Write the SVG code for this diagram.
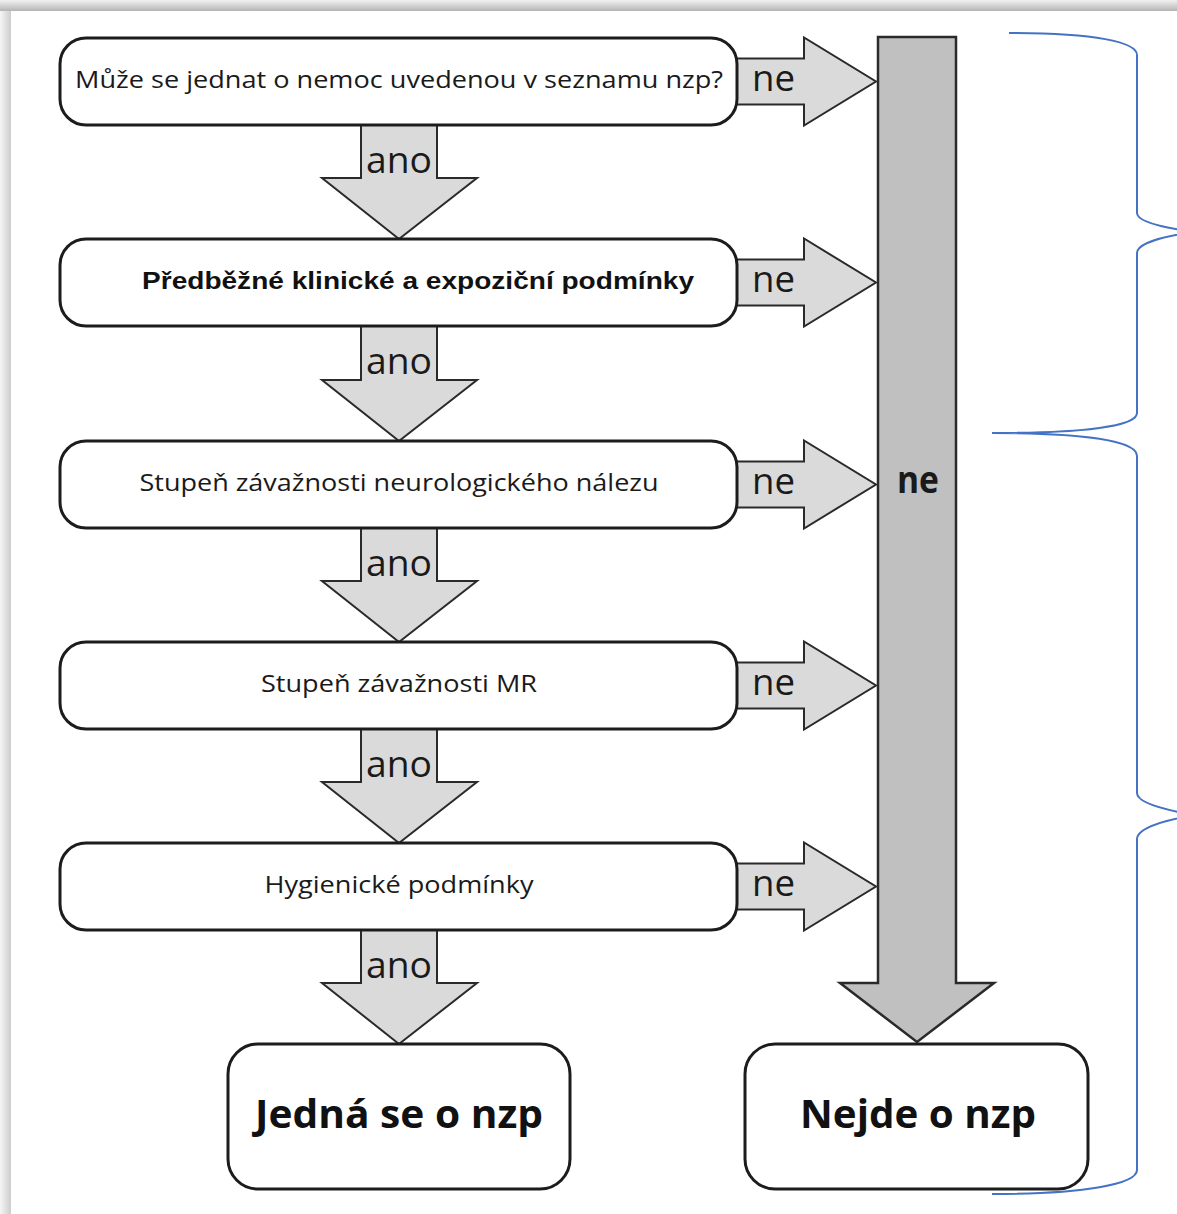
<svg xmlns="http://www.w3.org/2000/svg" width="1177" height="1214" viewBox="0 0 1177 1214">
<defs>
<linearGradient id="gTop" x1="0" y1="0" x2="0" y2="1"><stop offset="0" stop-color="#f2f2f2"/><stop offset="1" stop-color="#b4b4b4"/></linearGradient>
<linearGradient id="gLeft" x1="0" y1="0" x2="1" y2="0"><stop offset="0" stop-color="#f6f6f6"/><stop offset="1" stop-color="#cdcdcd"/></linearGradient>
</defs>
<style>
.box{fill:#fff;stroke:#1c1c1c;stroke-width:3}
.arr{fill:#dadada;stroke:#2a2a2a;stroke-width:2;stroke-linejoin:miter}
.bar{fill:#c0c0c0;stroke:#2a2a2a;stroke-width:2.5;stroke-linejoin:miter}
.t{font-family:"Open Sans","DejaVu Sans",sans-serif;font-size:23px;fill:#1a1a1a;text-anchor:middle}
.tb{font-family:"Liberation Sans",Arial,sans-serif;font-weight:bold;font-size:24px;fill:#111;text-anchor:middle}
.lab{font-family:"Open Sans","DejaVu Sans",sans-serif;font-size:37px;fill:#1a1a1a}
.big{font-family:"Open Sans","DejaVu Sans",sans-serif;font-weight:bold;font-size:39px;fill:#111;text-anchor:middle}
.brace{fill:none;stroke:#4472c4;stroke-width:2}
</style>
<rect x="0" y="0" width="1177" height="1214" fill="#fff"/>
<rect x="0" y="0" width="11" height="1214" fill="url(#gLeft)"/>
<rect x="0" y="0" width="1177" height="11" fill="url(#gTop)"/>

<g id="connectors">
<polygon class="bar" points="878,37 956,37 956,983 994,983 917,1042 840,983 878,983"/>
<text class="lab" x="918" y="493" text-anchor="middle" font-weight="bold" font-size="35" textLength="42" lengthAdjust="spacingAndGlyphs">ne</text>
<!-- ne arrows -->
<polygon class="arr" points="737,58.5 804,58.5 804,37.5 876,81.5 804,125.5 804,104.5 737,104.5"/>
<polygon class="arr" points="737,259.5 804,259.5 804,238.5 876,282.5 804,326.5 804,305.5 737,305.5"/>
<polygon class="arr" points="737,461.5 804,461.5 804,440.5 876,484.5 804,528.5 804,507.5 737,507.5"/>
<polygon class="arr" points="737,662.5 804,662.5 804,641.5 876,685.5 804,729.5 804,708.5 737,708.5"/>
<polygon class="arr" points="737,863.5 804,863.5 804,842.5 876,886.5 804,930.5 804,909.5 737,909.5"/>
<text class="lab" x="752" y="91" textLength="43" lengthAdjust="spacingAndGlyphs">ne</text>
<text class="lab" x="752" y="292" textLength="43" lengthAdjust="spacingAndGlyphs">ne</text>
<text class="lab" x="752" y="494" textLength="43" lengthAdjust="spacingAndGlyphs">ne</text>
<text class="lab" x="752" y="695" textLength="43" lengthAdjust="spacingAndGlyphs">ne</text>
<text class="lab" x="752" y="896" textLength="43" lengthAdjust="spacingAndGlyphs">ne</text>
<!-- ano arrows -->
<polygon class="arr" points="361,125 437,125 437,178 477,178 399,239 322,178 361,178"/>
<polygon class="arr" points="361,326 437,326 437,380 477,380 399,441 322,380 361,380"/>
<polygon class="arr" points="361,528 437,528 437,581 477,581 399,642 322,581 361,581"/>
<polygon class="arr" points="361,729 437,729 437,782 477,782 399,843 322,782 361,782"/>
<polygon class="arr" points="361,930 437,930 437,983 477,983 399,1044 322,983 361,983"/>
<text class="lab" x="399" y="173" text-anchor="middle" textLength="66" lengthAdjust="spacingAndGlyphs">ano</text>
<text class="lab" x="399" y="374" text-anchor="middle" textLength="66" lengthAdjust="spacingAndGlyphs">ano</text>
<text class="lab" x="399" y="576" text-anchor="middle" textLength="66" lengthAdjust="spacingAndGlyphs">ano</text>
<text class="lab" x="399" y="777" text-anchor="middle" textLength="66" lengthAdjust="spacingAndGlyphs">ano</text>
<text class="lab" x="399" y="978" text-anchor="middle" textLength="66" lengthAdjust="spacingAndGlyphs">ano</text>
</g>

<g id="n1"><rect class="box" x="60" y="38" width="677" height="87" rx="26"/>
<text class="t" x="399" y="88" textLength="648" lengthAdjust="spacingAndGlyphs">Může se jednat o nemoc uvedenou v seznamu nzp?</text></g>
<g id="n2"><rect class="box" x="60" y="239" width="677" height="87" rx="26"/>
<text class="tb" x="418" y="289" textLength="552" lengthAdjust="spacingAndGlyphs">Předběžné klinické a expoziční podmínky</text></g>
<g id="n3"><rect class="box" x="60" y="441" width="677" height="87" rx="26"/>
<text class="t" x="399" y="491" textLength="519" lengthAdjust="spacingAndGlyphs">Stupeň závažnosti neurologického nálezu</text></g>
<g id="n4"><rect class="box" x="60" y="642" width="677" height="87" rx="26"/>
<text class="t" x="399" y="692" textLength="276" lengthAdjust="spacingAndGlyphs">Stupeň závažnosti MR</text></g>
<g id="n5"><rect class="box" x="60" y="843" width="677" height="87" rx="26"/>
<text class="t" x="399" y="893" textLength="269" lengthAdjust="spacingAndGlyphs">Hygienické podmínky</text></g>
<g id="n6"><rect class="box" x="228" y="1044" width="342" height="145" rx="30"/>
<text class="big" x="399" y="1128" textLength="288" lengthAdjust="spacingAndGlyphs">Jedná se o nzp</text></g>
<g id="n7"><rect class="box" x="745" y="1044" width="343" height="145" rx="30"/>
<text class="big" x="918" y="1128" textLength="236" lengthAdjust="spacingAndGlyphs">Nejde o nzp</text></g>

<g id="braces">
<path class="brace" d="M1009,33 C1095,33 1137,42 1137,55 L1137,213 C1137,222 1165,228 1195,232 C1165,236 1137,243 1137,253 L1137,413 C1137,426 1085,433 992,433 C1085,433 1137,441 1137,456 L1137,793 C1137,803 1165,810 1195,815 C1165,820 1137,828 1137,839 L1137,1170 C1137,1184 1085,1194 992,1194"/>
</g>
</svg>
